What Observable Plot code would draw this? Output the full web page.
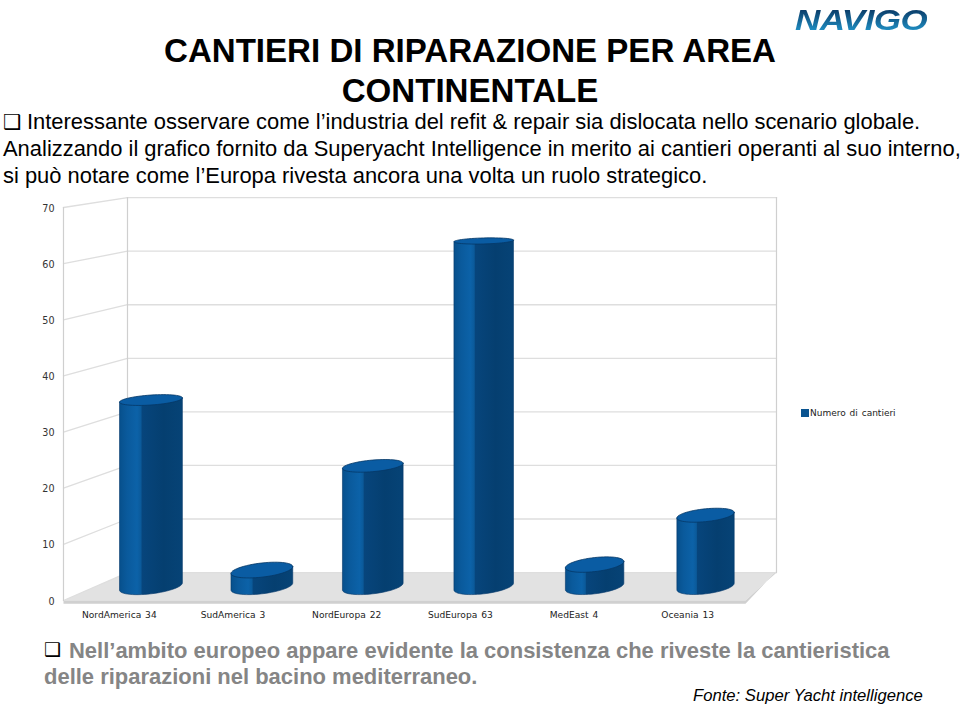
<!DOCTYPE html>
<html lang="it">
<head>
<meta charset="utf-8">
<script src="https://cdn.jsdelivr.net/npm/d3@7"></script>
<script src="https://cdn.jsdelivr.net/npm/@observablehq/plot@0.6"></script>
<style>
html,body{margin:0;padding:0;background:#fff;overflow:hidden}
#page{position:relative;width:960px;height:705px;font-family:"Liberation Sans",Arial,sans-serif;color:#000}
.t{position:absolute;white-space:nowrap;line-height:1}
.title{font-weight:700;font-size:33.1px;left:0;width:940px;text-align:center}
.body{font-size:21.93px;left:3px}
.box{font-family:"DejaVu Sans";font-weight:700}
.low{font-size:21.97px;font-weight:700;color:#858585}
#chart{position:absolute;left:0;top:190px}
#logo{position:absolute;left:795px;top:2px;font:italic 700 30px/1.2 "Liberation Sans";letter-spacing:-0.5px;transform-origin:0 0;transform:scaleX(1.168);
 background:linear-gradient(#0a3a66 20%,#1f8fc4 80%);-webkit-background-clip:text;background-clip:text;color:transparent}
#swatch{position:absolute;left:801px;top:409px;width:8px;height:8px;background:#0a5490}
#legend{position:absolute;left:810px;top:408px;font:9px "DejaVu Sans";word-spacing:1px;color:#222;white-space:nowrap}
</style>
</head>
<body>
<div id="page">
  <div id="logo">NAVIGO</div>
  <div class="t title" style="top:34px">CANTIERI DI RIPARAZIONE PER AREA</div>
  <div class="t title" style="top:74px">CONTINENTALE</div>
  <div class="t box" style="left:3px;top:112px;font-size:20.6px">❑</div>
  <div class="t body" style="left:27px;top:111.2px">Interessante osservare come l’industria del refit &amp; repair sia dislocata nello scenario globale.</div>
  <div class="t body" style="top:137.5px">Analizzando il grafico fornito da Superyacht Intelligence in merito ai cantieri operanti al suo interno,</div>
  <div class="t body" style="top:164.5px">si può notare come l’Europa rivesta ancora una volta un ruolo strategico.</div>
  <div id="chart"></div>
  <div id="swatch"></div><div id="legend">Numero di cantieri</div>
  <div class="t box" style="left:44px;top:640px;font-size:19px">❑</div>
  <div class="t low" style="left:69px;top:639.7px">Nell’ambito europeo appare evidente la consistenza che riveste la cantieristica</div>
  <div class="t low" style="left:44px;top:666.4px">delle riparazioni nel bacino mediterraneo.</div>
  <div class="t" style="left:693px;top:688px;font-size:16.65px;font-style:italic">Fonte: Super Yacht intelligence</div>
</div>
<script>
const categories = ["NordAmerica","SudAmerica","NordEuropa","SudEuropa","MedEast","Oceania"];
const values = [34,3,22,63,4,13];
const yTicks = [0,10,20,30,40,50,60,70];

// depth projection: t=0 front plane, t=1 back wall (in scale units)
const pxPerUnit = 5.614;
const proj = (u,v,t) => ({x: u*(1-t*0.0484)+t*0.563, y: v*(1-t*0.046)+t*4.98});

const poly = (id,pts) => pts.map(p => ({id,...p}));
const walls = [
  [0,0,0,70,0],[0,0,1,70,1],[6,0,1,70,1]
].map(([u,a,t,b,t2],i)=>poly("w"+i,[proj(u,a,t),proj(u,b,t2)]));
const grid = yTicks.flatMap(v=>[
  poly("b"+v,[proj(0,v,1),proj(6,v,1)]),
  poly("s"+v,[proj(0,v,0),proj(0,v,1)])
]);
const floor = poly("floor",[proj(0,0,0),proj(6,0,0),proj(6,0,1),proj(0,0,1)]);
const lip = poly("lip",[proj(0,0,0),proj(6,0,0),proj(6,0,1),proj(6,0.3,1),proj(6,-0.6,0),proj(0,-0.6,0)]);

// cylinders
const ringParams = v => ({b:(7.3-0.068*v)/pxPerUnit, s:(0.115-0.0014*v)});
const ang = d3.range(0,361,6).map(d=>d*Math.PI/180);
const bodies=[],tops=[];
values.forEach((val,i)=>{
  const c = proj(i+0.5,0,0.5), half=(0.553-0.0097*i)/2;
  const top = proj(i+0.5,val,0.5);
  const ring = (cy,v,th) => {
    const {b,s}=ringParams(v);
    const aU=half*113.67/pxPerUnit;
    return {x:c.x+half*Math.cos(th), y:cy+b*Math.sin(th)+s*aU*Math.cos(th)};
  };
  const lowerHalf = ang.filter(a=>a>=Math.PI).map(a=>ring(c.y,0,a));
  bodies.push(...poly("c"+i,[ring(top.y,val,Math.PI),...lowerHalf,ring(top.y,val,0)]));
  tops.push(...poly("t"+i,ang.map(a=>ring(top.y,val,a))));
});

const gradient = () => {
  const defs=d3.create("svg:defs");
  const g=defs.append("linearGradient").attr("id","cyl");
  [[0,"#07508c"],[0.12,"#0a5a9c"],[0.28,"#0c62a8"],[0.34,"#0b5a9a"],[0.36,"#07457c"],[0.7,"#053f70"],[1,"#064376"]]
    .forEach(([o,c])=>g.append("stop").attr("offset",o).attr("stop-color",c));
  return defs.node();
};

const plot = Plot.plot({
  width:960,height:440,margin:0,
  style:{background:"transparent",overflow:"visible"},
  x:{type:"linear",domain:[0,6],range:[63,745],axis:null},
  y:{type:"linear",domain:[0,70],range:[410,17],axis:null},
  marks:[
    gradient,
    Plot.line(floor,{x:"x",y:"y",z:"id",fill:"#e2e2e2",stroke:"none"}),
    Plot.line(lip,{x:"x",y:"y",z:"id",fill:"#d0d0d0",stroke:"none"}),
    Plot.line(grid.flat(),{x:"x",y:"y",z:"id",stroke:"#dedede",strokeWidth:1.3}),
    Plot.line(walls.flat(),{x:"x",y:"y",z:"id",stroke:"#cfcfcf",strokeWidth:1.2}),
    Plot.line(bodies,{x:"x",y:"y",z:"id",fill:"url(#cyl)",stroke:"#05386a",strokeWidth:0.6}),
    Plot.line(tops,{x:"x",y:"y",z:"id",fill:"#0a5ca3",stroke:"#053766",strokeWidth:0.8}),
    Plot.text(yTicks,{x:0,y:d=>d,text:d=>String(d),textAnchor:"end",dx:-9,dy:1,fontFamily:"DejaVu Sans",fontSize:9.6,fill:"#333"}),
    Plot.text(categories,{x:(d,i)=>i+0.5,y:0,text:(d,i)=>`${d} ${values[i]}`,dx:-1,dy:15,fontFamily:"DejaVu Sans",fontSize:9.1,fill:"#222"})
  ]
});
plot.querySelectorAll("text").forEach(n=>n.style.wordSpacing="1px");
document.getElementById("chart").append(plot);
</script>
</body>
</html>
